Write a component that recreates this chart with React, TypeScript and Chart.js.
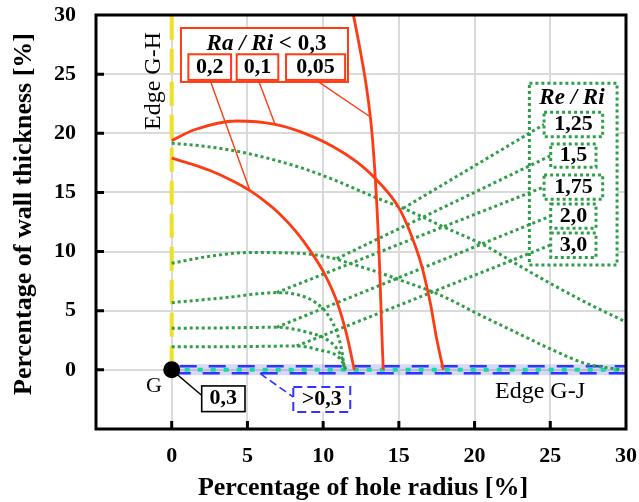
import React, { useEffect, useRef } from 'react';
import { Chart, registerables } from 'chart.js';

Chart.register(...registerables);

const SERIF = '"Liberation Serif", "Times New Roman", serif';

// ---- axes ----
const AXIS_MIN = -5;
const AXIS_MAX = 30;
const AXIS_STEP = 5;
const X_TICKS = [0, 5, 10, 15, 20, 25, 30];
const Y_TICKS = [0, 5, 10, 15, 20, 25, 30];
const X_TITLE = 'Percentage of hole radius [%]';
const Y_TITLE = 'Percentage of wall thickness [%]';

// ---- Ra/Ri limit curves (solid red) ----
const RA_02_X = [0, 1.3, 2.53, 3.9, 5.17, 6.2, 7.2, 8.2, 9.13, 10.1, 10.9, 11.55, 12.06];
const RA_02_Y = [17.9, 17.4, 16.85, 16.05, 15.15, 14.2, 13.1, 11.7, 10.1, 8.1, 5.8, 3.0, 0];
const RA_01_X = [0, 1.5, 4.29, 6.82, 8.48, 10.67, 12.2, 13.54, 15.08, 16.18, 16.55, 16.85, 17.1, 17.5, 17.94];
const RA_01_Y = [19.38, 20.3, 21.04, 20.76, 20.14, 18.87, 17.6, 16.05, 13.52, 10.14, 8.6, 7.0, 5.5, 2.6, 0];
const RA_005_X = [12.0, 12.45, 12.85, 13.15, 13.35, 13.5, 13.62, 13.72, 13.8, 13.88, 13.97];
const RA_005_Y = [30, 27, 24, 21, 18, 15, 12, 9, 6, 3, 0];

// ---- Re/Ri curves (green dotted) ----
const RE_125_X = [0, 2.5, 5, 8.5, 10.45, 13.6, 15.29, 18.1, 20.7, 22.6, 25.1, 27.5, 30];
const RE_125_Y = [19.16, 18.85, 18.3, 17.1, 16.2, 14.5, 13.66, 12.0, 10.5, 9.07, 7.24, 5.6, 4.05];
const RE_15_X = [0, 2.5, 5.2, 8.3, 10.67, 11.77, 13.4, 15.08, 17.72, 20.36, 23, 25.3, 27.4, 29.8];
const RE_15_Y = [9.01, 9.6, 9.92, 9.86, 9.43, 9.0, 8.35, 7.6, 6.33, 4.64, 3.0, 1.6, 0.5, 0];
const RE_175_X = [0, 3.5, 6.93, 8.47, 9.6, 10.4, 10.95, 11.25, 11.4];
const RE_175_Y = [5.68, 6.1, 6.53, 6.3, 5.6, 4.5, 3.0, 1.5, 0];
const RE_20_X = [0, 3.5, 6.93, 8.9, 10.2, 10.9, 11.3, 11.45];
const RE_20_Y = [3.52, 3.55, 3.6, 3.2, 2.6, 1.8, 0.8, 0];
const RE_30_X = [0, 4, 8.25, 9.85, 10.9, 11.35, 11.5];
const RE_30_Y = [1.96, 1.96, 2.02, 1.65, 1.2, 0.5, 0];

// ---- edges of the section ----
const EDGE_GH_X = [0, 0];
const EDGE_GH_Y = [0, 30];
const EDGE_GJ_X = [0, 30];
const EDGE_GJ_Y = [0, 0];
const POINT_G_X = [0];
const POINT_G_Y = [0];

// ---- leader lines: [curve point, label point] ----
const LEAD_RA_02_X = [5.17, 2.53];
const LEAD_RA_02_Y = [15.15, 24.51];
const LEAD_RA_01_X = [6.82, 5.72];
const LEAD_RA_01_Y = [20.76, 24.51];
const LEAD_RA_005_X = [13.1, 9.5];
const LEAD_RA_005_Y = [21.4, 24.51];
const LEAD_RE_125_X = [15.29, 24.59];
const LEAD_RE_125_Y = [13.66, 20.75];
const LEAD_RE_15_X = [10.9, 25.03];
const LEAD_RE_15_Y = [9.4, 18.11];
const LEAD_RE_175_X = [6.93, 24.59];
const LEAD_RE_175_Y = [6.53, 15.46];
const LEAD_RE_20_X = [6.93, 25.03];
const LEAD_RE_20_Y = [3.6, 13.01];
const LEAD_RE_30_X = [8.25, 25.03];
const LEAD_RE_30_Y = [2.02, 10.56];
const LEAD_G_X = [0, 2.09];
const LEAD_G_Y = [0, -2.27];
const LEAD_GJ_X = [5.83, 8.03];
const LEAD_GJ_Y = [-0.3, -2.3];

// ---- label texts ----
const RA_TITLE_A = 'Ra / Ri';
const RA_TITLE_B = ' < 0,3';
const RA_LABELS = ['0,2', '0,1', '0,05'];
const RE_TITLE = 'Re / Ri';
const RE_LABELS = ['1,25', '1,5', '1,75', '2,0', '3,0'];

// ---- label frames, in axis units ----
type Box = { x0: number; x1: number; y0: number; y1: number };
const RA_FRAME: Box = { x0: 0.61, x1: 11.64, y0: 28.9, y1: 24.34 };
const RA_TITLE_AT = { x: 6.26, y: 27.55 };
const RA_BOXES: Box[] = [
  { x0: 1.1, x1: 3.92, y0: 26.68, y1: 24.51 },
  { x0: 4.29, x1: 7.04, y0: 26.68, y1: 24.51 },
  { x0: 7.55, x1: 11.45, y0: 26.68, y1: 24.51 },
];
const RE_FRAME: Box = { x0: 23.62, x1: 29.41, y0: 24.23, y1: 8.87 };
const RE_TITLE_AT = { x: 26.43, y: 22.99 };
const RE_BOXES: Box[] = [
  { x0: 24.59, x1: 28.46, y0: 21.78, y1: 19.71 },
  { x0: 25.03, x1: 28.02, y0: 19.1, y1: 17.13 },
  { x0: 24.59, x1: 28.46, y0: 16.48, y1: 14.42 },
  { x0: 25.03, x1: 28.02, y0: 14.02, y1: 11.97 },
  { x0: 25.03, x1: 28.02, y0: 11.57, y1: 9.5 },
];
const G_BOX: Box = { x0: 1.98, x1: 4.84, y0: -1.36, y1: -3.53 };
const GJ_BOX: Box = { x0: 8.03, x1: 11.79, y0: -1.44, y1: -3.56 };
const G_LABEL_AT = { x: -1.17, y: -1.42 };
const GJ_LABEL_AT = { x: 24.32, y: -1.84 };
const GH_LABEL_AT = { x: -1.17, y: 24.42 };

// ---- frame of the plotting area on the page ----
const AREA = { left: 96, top: 15, right: 626, bottom: 429 };

// ---- colours ----
const RED = '#ff3b14';
const GREEN = '#2f9e48';
const BLUE = '#2f35ff';
const CYAN = '#18d8a6';
const YELLOW = '#eee02a';

const pts = (xs: number[], ys: number[]) => xs.map((x, i) => ({ x, y: ys[i] }));

type Smooth = 'monotone' | 'spline' | 'none';

function series(label: string, xs: number[], ys: number[], color: string, width: number, dash: number[], order: number, smooth: Smooth = 'monotone') {
  return {
    label,
    data: pts(xs, ys),
    showLine: true,
    borderColor: color,
    backgroundColor: color,
    borderWidth: width,
    borderDash: dash,
    borderCapStyle: 'butt',
    pointRadius: 0,
    pointHoverRadius: 0,
    tension: smooth === 'none' ? 0 : 0.4,
    cubicInterpolationMode: smooth === 'monotone' ? 'monotone' : 'default',
    order,
    fill: false,
  };
}

const DOT = [3, 3];

const datasets: any[] = [
  {
    label: 'G',
    data: pts(POINT_G_X, POINT_G_Y),
    showLine: false,
    pointRadius: 8.5,
    pointHoverRadius: 0,
    pointBackgroundColor: '#000',
    pointBorderColor: '#000',
    pointBorderWidth: 0,
    order: 0,
  },
  series('Ra/Ri 0,2', RA_02_X, RA_02_Y, RED, 2.8, [], 1),
  series('Ra/Ri 0,1', RA_01_X, RA_01_Y, RED, 2.8, [], 1),
  series('Ra/Ri 0,05', RA_005_X, RA_005_Y, RED, 2.8, [], 1, 'spline'),
  series('lead 0,2', LEAD_RA_02_X, LEAD_RA_02_Y, RED, 1.4, [], 2, 'none'),
  series('lead 0,1', LEAD_RA_01_X, LEAD_RA_01_Y, RED, 1.4, [], 2, 'none'),
  series('lead 0,05', LEAD_RA_005_X, LEAD_RA_005_Y, RED, 1.4, [], 2, 'none'),
  series('lead G', LEAD_G_X, LEAD_G_Y, '#000', 1.4, [], 3, 'none'),
  series('lead G-J', LEAD_GJ_X, LEAD_GJ_Y, BLUE, 1.6, [8, 4], 3, 'none'),
  series('Re/Ri 1,25', RE_125_X, RE_125_Y, GREEN, 3, DOT, 4),
  series('Re/Ri 1,5', RE_15_X, RE_15_Y, GREEN, 3, DOT, 4),
  series('Re/Ri 1,75', RE_175_X, RE_175_Y, GREEN, 3, DOT, 4),
  series('Re/Ri 2,0', RE_20_X, RE_20_Y, GREEN, 3, DOT, 4),
  series('Re/Ri 3,0', RE_30_X, RE_30_Y, GREEN, 3, DOT, 4),
  series('lead 1,25', LEAD_RE_125_X, LEAD_RE_125_Y, GREEN, 3, DOT, 4, 'none'),
  series('lead 1,5', LEAD_RE_15_X, LEAD_RE_15_Y, GREEN, 3, DOT, 4, 'none'),
  series('lead 1,75', LEAD_RE_175_X, LEAD_RE_175_Y, GREEN, 3, DOT, 4, 'none'),
  series('lead 2,0', LEAD_RE_20_X, LEAD_RE_20_Y, GREEN, 3, DOT, 4, 'none'),
  series('lead 3,0', LEAD_RE_30_X, LEAD_RE_30_Y, GREEN, 3, DOT, 4, 'none'),
  series('Edge G-J dots', EDGE_GJ_X, EDGE_GJ_Y, CYAN, 4, [5, 8], 5, 'none'),
  series('Edge G-J', EDGE_GJ_X, EDGE_GJ_Y, 'rgba(110,120,235,0.28)', 11, [], 6, 'none'),
  series('Edge G-H', EDGE_GH_X, EDGE_GH_Y, YELLOW, 4, [24, 9], 7, 'none'),
];

function toPx(chart: any, x: number, y: number): [number, number] {
  return [chart.scales.x.getPixelForValue(x), chart.scales.y.getPixelForValue(y)];
}

function drawBox(chart: any, b: Box, stroke: string | null, width: number, dash: number[]) {
  const ctx = chart.ctx;
  const [x0, y0] = toPx(chart, b.x0, b.y0);
  const [x1, y1] = toPx(chart, b.x1, b.y1);
  ctx.save();
  ctx.fillStyle = '#fff';
  ctx.fillRect(x0, y0, x1 - x0, y1 - y0);
  if (stroke) {
    ctx.strokeStyle = stroke;
    ctx.lineWidth = width;
    ctx.setLineDash(dash);
    ctx.strokeRect(x0, y0, x1 - x0, y1 - y0);
  }
  ctx.restore();
}

function drawText(chart: any, s: string, x: number, y: number, font: string, rotate = false) {
  const ctx = chart.ctx;
  const [px, py] = toPx(chart, x, y);
  ctx.save();
  ctx.font = font;
  ctx.fillStyle = '#000';
  ctx.textAlign = 'center';
  ctx.textBaseline = 'middle';
  ctx.translate(px, py);
  if (rotate) ctx.rotate(-Math.PI / 2);
  ctx.fillText(s, 0, 0);
  ctx.restore();
}

const boxCentre = (b: Box) => ({ x: (b.x0 + b.x1) / 2, y: (b.y0 + b.y1) / 2 });

const LABEL_FONT = `bold 22px ${SERIF}`;
const TITLE_FONT_I = `italic bold 23px ${SERIF}`;
const TITLE_FONT = `bold 23px ${SERIF}`;
const EDGE_FONT = `24px ${SERIF}`;
const AXIS_FONT = `bold 26px ${SERIF}`;
const TICK_FONT = `bold 22px ${SERIF}`;

const decorations = {
  id: 'decorations',
  beforeDatasetsDraw(chart: any) {
    drawBox(chart, RE_FRAME, null, 0, []);
  },
  afterDatasetDraw(chart: any, args: any) {
    const ds = chart.data.datasets[args.index];
    if (ds.label !== 'Edge G-J') return;
    const ctx = chart.ctx;
    const [xa, ya] = toPx(chart, EDGE_GJ_X[0], EDGE_GJ_Y[0]);
    const [xb] = toPx(chart, EDGE_GJ_X[1], EDGE_GJ_Y[1]);
    ctx.save();
    ctx.strokeStyle = BLUE;
    ctx.lineWidth = 2.5;
    ctx.setLineDash([17, 12]);
    ctx.lineDashOffset = -8;
    ctx.beginPath();
    ctx.moveTo(xa, ya - 3.5);
    ctx.lineTo(xb, ya - 3.5);
    ctx.stroke();
    ctx.lineDashOffset = -2;
    ctx.beginPath();
    ctx.moveTo(xa, ya + 3.5);
    ctx.lineTo(xb, ya + 3.5);
    ctx.stroke();
    ctx.restore();
  },
  afterDatasetsDraw(chart: any) {
    const ctx = chart.ctx;
    // Ra/Ri legend
    drawBox(chart, RA_FRAME, RED, 2, []);
    {
      const [cx, cy] = toPx(chart, RA_TITLE_AT.x, RA_TITLE_AT.y);
      ctx.save();
      ctx.fillStyle = '#000';
      ctx.textBaseline = 'middle';
      ctx.textAlign = 'left';
      ctx.font = TITLE_FONT_I;
      const wa = ctx.measureText(RA_TITLE_A).width;
      ctx.font = TITLE_FONT;
      const wb = ctx.measureText(RA_TITLE_B).width;
      const start = cx - (wa + wb) / 2;
      ctx.font = TITLE_FONT_I;
      ctx.fillText(RA_TITLE_A, start, cy);
      ctx.font = TITLE_FONT;
      ctx.fillText(RA_TITLE_B, start + wa, cy);
      ctx.restore();
    }
    RA_BOXES.forEach((b, i) => {
      drawBox(chart, b, RED, 2, []);
      const c = boxCentre(b);
      drawText(chart, RA_LABELS[i], c.x, c.y, LABEL_FONT);
    });
    // Re/Ri legend
    {
      const [x0, y0] = toPx(chart, RE_FRAME.x0, RE_FRAME.y0);
      const [x1, y1] = toPx(chart, RE_FRAME.x1, RE_FRAME.y1);
      ctx.save();
      ctx.strokeStyle = GREEN;
      ctx.lineWidth = 3;
      ctx.setLineDash(DOT);
      ctx.strokeRect(x0, y0, x1 - x0, y1 - y0);
      ctx.restore();
    }
    drawText(chart, RE_TITLE, RE_TITLE_AT.x, RE_TITLE_AT.y, TITLE_FONT_I);
    RE_BOXES.forEach((b, i) => {
      drawBox(chart, b, GREEN, 3, DOT);
      const c = boxCentre(b);
      drawText(chart, RE_LABELS[i], c.x, c.y, LABEL_FONT);
    });
    // labels around corner G
    drawBox(chart, G_BOX, '#000', 1.6, []);
    drawText(chart, '0,3', boxCentre(G_BOX).x, boxCentre(G_BOX).y, LABEL_FONT);
    drawBox(chart, GJ_BOX, BLUE, 2, [9, 5]);
    drawText(chart, '>0,3', boxCentre(GJ_BOX).x, boxCentre(GJ_BOX).y, LABEL_FONT);
    drawText(chart, 'G', G_LABEL_AT.x, G_LABEL_AT.y, `22px ${SERIF}`);
    drawText(chart, 'Edge G-J', GJ_LABEL_AT.x, GJ_LABEL_AT.y, EDGE_FONT);
    drawText(chart, 'Edge G-H', GH_LABEL_AT.x, GH_LABEL_AT.y, EDGE_FONT, true);
  },
  afterDraw(chart: any) {
    const ctx = chart.ctx;
    const { left, right, top, bottom } = chart.chartArea;
    ctx.save();
    ctx.strokeStyle = '#000';
    ctx.lineWidth = 3;
    ctx.setLineDash([]);
    ctx.strokeRect(left, top, right - left, bottom - top);
    // inward tick marks
    for (let v = 0; v < AXIS_MAX; v += AXIS_STEP) {
      const x = chart.scales.x.getPixelForValue(v);
      const y = chart.scales.y.getPixelForValue(v);
      ctx.beginPath();
      ctx.moveTo(x, bottom);
      ctx.lineTo(x, bottom - 8);
      ctx.moveTo(left, y);
      ctx.lineTo(left + 8, y);
      ctx.stroke();
    }
    // tick labels
    ctx.fillStyle = '#000';
    ctx.font = TICK_FONT;
    ctx.textBaseline = 'middle';
    ctx.textAlign = 'center';
    X_TICKS.forEach((v) => ctx.fillText(String(v), chart.scales.x.getPixelForValue(v), bottom + 27));
    ctx.textAlign = 'right';
    Y_TICKS.forEach((v) => ctx.fillText(String(v), left - 20, chart.scales.y.getPixelForValue(v)));
    // axis titles
    ctx.font = AXIS_FONT;
    ctx.textAlign = 'center';
    ctx.fillText(X_TITLE, (left + right) / 2 + 2, 488);
    ctx.translate(24, (top + bottom) / 2 - 8);
    ctx.rotate(-Math.PI / 2);
    ctx.fillText(Y_TITLE, 0, 0);
    ctx.restore();
  },
};

export default function App() {
  const ref = useRef<HTMLCanvasElement>(null);
  useEffect(() => {
    const canvas = ref.current;
    if (!canvas) return;
    const padding = { left: 0, top: AREA.top, right: 639 - AREA.right, bottom: 0 };
    const chart = new Chart(canvas, {
      type: 'scatter',
      data: { datasets },
      options: {
        animation: false,
        responsive: false,
        devicePixelRatio: 1,
        events: [],
        layout: { padding, autoPadding: false },
        plugins: { legend: { display: false }, tooltip: { enabled: false } },
        scales: {
          x: {
            type: 'linear',
            min: AXIS_MIN,
            max: AXIS_MAX,
            ticks: { stepSize: AXIS_STEP, display: false },
            grid: { color: '#dadada', lineWidth: 2, drawTicks: false },
            border: { display: false },
            afterFit: (s: any) => { s.height = 502 - AREA.bottom; },
          },
          y: {
            type: 'linear',
            min: AXIS_MIN,
            max: AXIS_MAX,
            ticks: { stepSize: AXIS_STEP, display: false },
            grid: { color: '#dadada', lineWidth: 2, drawTicks: false },
            border: { display: false },
            afterFit: (s: any) => { s.width = AREA.left; },
          },
        },
      } as any,
      plugins: [decorations],
    });
    // nudge the layout padding until the plotting area sits on its frame
    for (let i = 0; i < 4; i++) {
      const a = chart.chartArea;
      const dTop = AREA.top - a.top;
      const dRight = a.right - AREA.right;
      const dBottom = a.bottom - AREA.bottom;
      const dLeft = AREA.left - a.left;
      if (Math.abs(dTop) + Math.abs(dRight) + Math.abs(dBottom) + Math.abs(dLeft) < 0.5) break;
      padding.top += dTop;
      padding.right += dRight;
      padding.bottom += dBottom;
      padding.left += dLeft;
      chart.update();
    }
    return () => chart.destroy();
  }, []);
  return (
    <div style={{ position: 'absolute', left: 0, top: 0, width: 639, height: 502, background: '#fff' }}>
      <canvas ref={ref} width={639} height={502} style={{ display: 'block', width: 639, height: 502 }} />
    </div>
  );
}
